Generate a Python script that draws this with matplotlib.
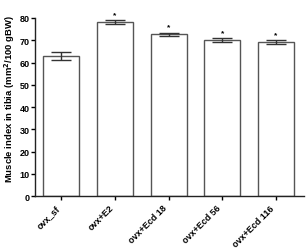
import matplotlib

matplotlib.use("Agg")

import matplotlib.pyplot as plt
import matplotlib.transforms as mtransforms
import numpy as np

plt.rcParams["font.family"] = ["Liberation Sans", "DejaVu Sans"]
plt.rcParams["font.weight"] = "bold"

groups = ["ovx_sf", "ovx+E2", "ovx+Ecd 18", "ovx+Ecd 56", "ovx+Ecd 116"]
means = [62.9, 78.2, 72.6, 70.0, 69.2]
errors = [1.7, 0.7, 0.6, 0.8, 0.7]
significant = [False, True, True, True, True]
y_ticks = [0, 10, 20, 30, 40, 50, 60, 70, 80]

fig = plt.figure(figsize=(3.08, 2.53), dpi=100)
ax = fig.add_axes([0.114, 0.221, 0.873, 0.704])

x = np.arange(len(groups))
ax.bar(x, means, width=0.67, color="white", edgecolor="#555555", linewidth=1.0, zorder=2)
ax.errorbar(x, means, yerr=errors, fmt="none", ecolor="#333333", elinewidth=1.0,
            capsize=7, capthick=1.0, zorder=3)
for xi, m, e, sig in zip(x, means, errors, significant):
    if sig:
        ax.text(xi, m + e + 1.2, "*", ha="center", va="bottom", fontsize=6, clip_on=False)

ax.set_xlim(-0.49, 4.52)
ax.set_ylim(0, 80)
ax.set_yticks(y_ticks)
ax.set_xticks(x)
ax.set_xticklabels(groups, rotation=45, ha="right", fontsize=6.5)
shift = mtransforms.ScaledTranslation(5 / 100, -4 / 100, fig.dpi_scale_trans)
for lbl in ax.get_xticklabels():
    lbl.set_transform(lbl.get_transform() + shift)
ax.tick_params(axis="y", labelsize=6.5, length=3, width=1, pad=1)
ax.tick_params(axis="x", length=3, width=1, pad=2)
ax.set_ylabel("Muscle index in tibia (mm$^\\mathbf{2}$/100 gBW)", fontsize=6.8, fontweight="bold")
ax.yaxis.set_label_coords(-0.068, 0.55)

for side in ["top", "right"]:
    ax.spines[side].set_visible(False)
for side in ["left", "bottom"]:
    ax.spines[side].set_linewidth(1.0)
    ax.spines[side].set_color("#222222")

fig.savefig("out.png", dpi=100)
